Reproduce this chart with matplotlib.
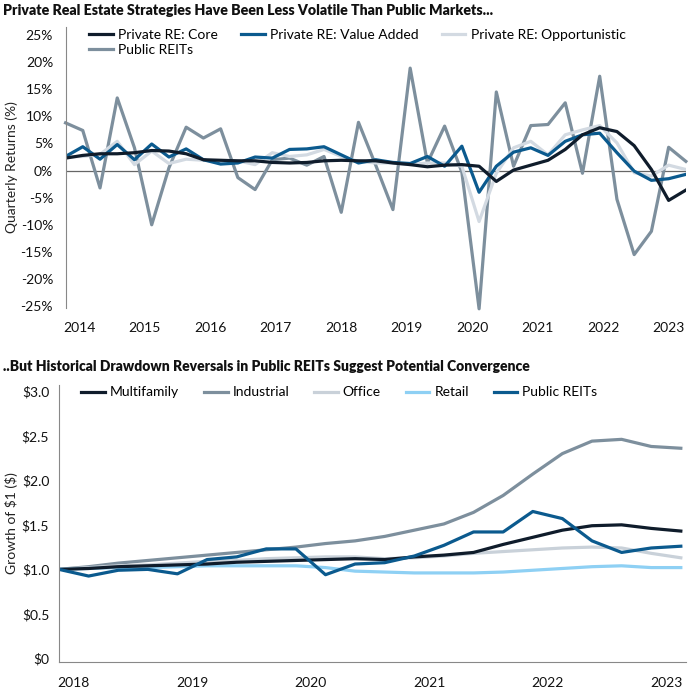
import numpy as np
import matplotlib
matplotlib.use("Agg")
import matplotlib.pyplot as plt

plt.rcParams['font.family'] = ['Lato', 'DejaVu Sans']

# top chart: quarterly returns (%), Q1 2014 .. Q1 2023
core = [2.3, 2.8, 3.1, 3.1, 3.3, 3.7, 3.6, 3.1, 2.0, 1.9, 1.8, 1.8, 1.5, 1.4, 1.5, 1.8,
        1.9, 1.8, 1.8, 1.4, 1.1, 0.7, 1.0, 1.1, 0.8, -2.0, 0.1, 1.0, 1.9, 3.9, 6.6, 7.9,
        7.2, 4.6, 0.2, -5.5, -3.6]
value_added = [2.6, 4.4, 2.1, 4.8, 2.0, 4.9, 2.5, 4.0, 2.0, 1.2, 1.4, 2.5, 2.3, 3.9, 4.0, 4.4,
               2.9, 1.4, 2.0, 1.5, 1.3, 2.6, 0.8, 4.5, -4.0, 0.8, 3.4, 4.2, 2.8, 5.4, 6.6, 6.9,
               3.3, -0.1, -1.8, -1.5, -0.7]
opportunistic = [2.5, 2.6, 3.0, 5.4, 1.1, 3.6, 1.3, 2.1, 1.9, 1.7, 1.8, 1.1, 3.3, 2.6, 2.9, 3.9,
                 2.6, 1.7, 1.4, 1.4, 1.1, 1.4, 1.4, 0.8, -9.4, -0.5, 4.2, 5.4, 2.9, 6.6, 7.5, 8.3,
                 5.1, -0.4, -1.0, 1.0, 0.2]
public_reits = [8.8, 7.4, -3.2, 13.4, 4.2, -10.0, 0.5, 8.0, 6.0, 7.7, -1.3, -3.5, 2.0, 2.3, 1.0, 2.6,
                -7.7, 8.9, 1.0, -7.2, 18.9, 1.4, 8.2, -0.3, -25.5, 14.5, 0.8, 8.3, 8.5, 12.5, -0.5, 17.4,
                -5.3, -15.5, -11.2, 4.3, 1.7]
top_years = ['2014', '2015', '2016', '2017', '2018', '2019', '2020', '2021', '2022', '2023']
top_ticks = ['25%', '20%', '15%', '10%', '5%', '0%', '-5%', '-10%', '-15%', '-20%', '-25%']

# bottom chart: growth of $1, quarterly
multifamily = [1.00, 1.01, 1.03, 1.04, 1.05, 1.06, 1.08, 1.09, 1.10, 1.11, 1.12, 1.11,
               1.14, 1.16, 1.19, 1.28, 1.36, 1.44, 1.49, 1.50, 1.46, 1.43]
industrial = [1.00, 1.03, 1.07, 1.10, 1.13, 1.16, 1.19, 1.22, 1.25, 1.29, 1.32, 1.37,
              1.44, 1.51, 1.64, 1.83, 2.07, 2.30, 2.44, 2.46, 2.38, 2.36]
office = [1.00, 1.02, 1.04, 1.05, 1.07, 1.09, 1.10, 1.12, 1.13, 1.14, 1.14, 1.12,
          1.13, 1.15, 1.18, 1.20, 1.22, 1.24, 1.25, 1.24, 1.18, 1.13]
retail = [1.00, 1.01, 1.02, 1.02, 1.03, 1.04, 1.04, 1.04, 1.04, 1.02, 0.98, 0.97,
          0.96, 0.96, 0.96, 0.97, 0.99, 1.01, 1.03, 1.04, 1.02, 1.02]
reits_growth = [1.00, 0.925, 0.99, 1.00, 0.95, 1.11, 1.14, 1.23, 1.23, 0.94, 1.06, 1.075,
                1.15, 1.27, 1.42, 1.42, 1.65, 1.57, 1.32, 1.19, 1.24, 1.26]
bottom_years = ['2018', '2019', '2020', '2021', '2022', '2023']
bottom_ticks = [r'\$0', r'\$0.5', r'\$1.0', r'\$1.5', r'\$2.0', r'\$2.5', r'\$3.0']

c_core = '#0f1c2b'
c_blue = '#0b5a8e'
c_light = '#d3dae2'
c_gray = '#7d8f9d'
c_office = '#c9d1d9'
c_retail = '#8ed0f4'
lw = 2.3

fig = plt.figure(figsize=(6.9, 6.9), dpi=100)

# ---- top panel
ax1 = fig.add_axes([0.095, 0.554, 0.899, 0.407])
x1 = np.arange(len(core))
l_reit, = ax1.plot(x1, public_reits, color=c_gray, lw=lw, label='Public REITs', clip_on=False)
l_opp, = ax1.plot(x1, opportunistic, color=c_light, lw=lw, label='Private RE: Opportunistic')
l_va, = ax1.plot(x1, value_added, color=c_blue, lw=lw, label='Private RE: Value Added')
l_core, = ax1.plot(x1, core, color=c_core, lw=lw, label='Private RE: Core')
ax1.axhline(0, color='#666666', lw=0.9, zorder=0)
ax1.set_xlim(0, len(core) - 1)
ax1.set_ylim(-25.3, 26.5)
ax1.set_yticks(np.arange(25, -26, -5))
ax1.set_yticklabels(top_ticks)
ax1.set_xticks(np.linspace(0.8, 35.0, len(top_years)))
ax1.set_xticklabels(top_years)
for s in ['top', 'right', 'bottom']:
    ax1.spines[s].set_visible(False)
ax1.spines['left'].set_color('#888888')
ax1.tick_params(length=0, labelsize=10, colors='#111111')
ax1.tick_params(axis='y', pad=9)
ax1.tick_params(axis='x', pad=10)
ax1.set_ylabel('Quarterly Returns (%)', fontsize=10, color='#222222', labelpad=2)
ax1.legend([l_core, l_reit, l_va, l_opp],
           ['Private RE: Core', 'Public REITs', 'Private RE: Value Added', 'Private RE: Opportunistic'],
           ncol=3, loc='upper left', bbox_to_anchor=(0.129, 0.958), bbox_transform=fig.transFigure,
           frameon=False, fontsize=10, handlelength=1.7, handletextpad=0.4, columnspacing=1.65,
           labelspacing=0.2, borderpad=0, borderaxespad=0)

fig.text(0.005, 0.985, 'Private Real Estate Strategies Have Been Less Volatile Than Public Markets...',
         fontsize=10.2, fontweight='heavy', va='center', ha='left', color='#111111')

# ---- bottom panel
ax2 = fig.add_axes([0.0855, 0.0406, 0.9085, 0.4014])
x2 = np.arange(len(multifamily))
ax2.plot(x2, industrial, color=c_gray, lw=lw, label='Industrial')
ax2.plot(x2, office, color=c_office, lw=lw, label='Office')
ax2.plot(x2, retail, color=c_retail, lw=lw, label='Retail')
ax2.plot(x2, multifamily, color=c_core, lw=lw, label='Multifamily')
ax2.plot(x2, reits_growth, color=c_blue, lw=lw, label='Public REITs')
ax2.set_xlim(0, len(multifamily) - 1 + 0.17)
ax2.set_ylim(-0.04, 3.07)
ax2.set_yticks(np.arange(0, 3.01, 0.5))
ax2.set_yticklabels(bottom_ticks)
ax2.set_xticks(np.arange(len(bottom_years)) * 4 + 0.5)
ax2.set_xticklabels(bottom_years)
for s in ['top', 'right']:
    ax2.spines[s].set_visible(False)
ax2.spines['left'].set_color('#888888')
ax2.spines['bottom'].set_color('#888888')
ax2.tick_params(length=0, labelsize=10, colors='#111111')
ax2.tick_params(axis='y', pad=7)
ax2.tick_params(axis='x', pad=11)
ax2.set_ylabel(r'Growth of \$1 (\$)', fontsize=10, color='#222222', labelpad=3)
h, lab = ax2.get_legend_handles_labels()
order = [3, 0, 1, 2, 4]
ax2.legend([h[i] for i in order], [lab[i] for i in order], ncol=5, loc='upper left',
           bbox_to_anchor=(0.118, 0.44), bbox_transform=fig.transFigure, frameon=False,
           fontsize=10, handlelength=1.7, handletextpad=0.35, columnspacing=1.8,
           borderpad=0, borderaxespad=0)

fig.text(0.005, 0.469, '..But Historical Drawdown Reversals in Public REITs Suggest Potential Convergence',
         fontsize=10.0, fontweight='heavy', va='center', ha='left', color='#111111')

fig.savefig('out.png', dpi=100)
